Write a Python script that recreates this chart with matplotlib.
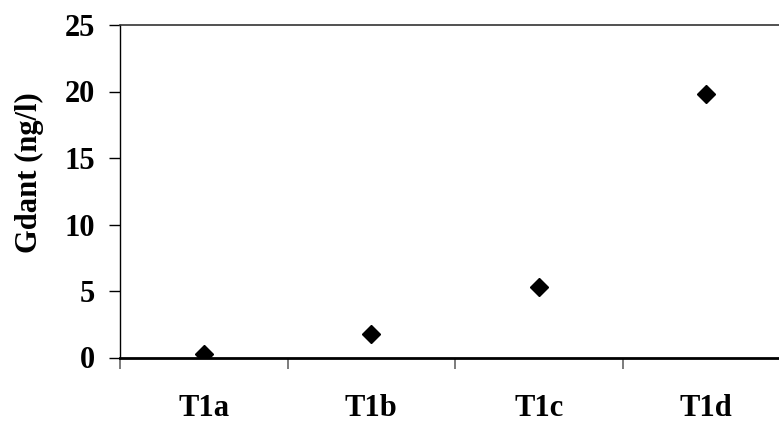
import numpy as np
import matplotlib
matplotlib.use("Agg")
import matplotlib.pyplot as plt

# data
samples = ['T1a', 'T1b', 'T1c', 'T1d']
gdant = [0.3, 1.8, 5.3, 19.8]
yticks = [0, 5, 10, 15, 20, 25]

plt.rcParams['font.family'] = ['Liberation Serif', 'DejaVu Serif']
plt.rcParams['font.weight'] = 'bold'

fig = plt.figure(figsize=(7.79, 4.22), dpi=100)
ax = fig.add_axes([120 / 779, 64.5 / 422, 670 / 779, 332.5 / 422])

x = np.arange(1, len(samples) + 1)
ax.plot(x, gdant, linestyle='none', marker='D', markersize=9.5, color='black')

ax.set_xlim(0.5, len(samples) + 0.5)
ax.set_ylim(0, 25)

# category labels at centres, tick marks at boundaries
ax.set_xticks(x)
ax.set_xticklabels(samples, fontsize=22, fontweight='bold')
ax.tick_params(axis='x', which='major', length=0, pad=26)
ax.set_xticks(np.arange(0.5, len(samples) + 1, 1.0), minor=True)
ax.tick_params(axis='x', which='minor', length=8, width=1.2, color='#666666', direction='out')

ax.set_yticks(yticks)
ax.set_yticklabels([str(v) for v in yticks], fontsize=22, fontweight='bold')
ax.tick_params(axis='y', length=8, width=1, color='black', direction='out', pad=10)

ax.set_ylabel('Gdant (ng/l)', fontsize=22, fontweight='bold')
ax.yaxis.set_label_coords(-0.114, 0.555)

ax.spines['right'].set_visible(False)
ax.spines['top'].set_color('#333333')
ax.spines['top'].set_linewidth(1.2)
ax.spines['left'].set_linewidth(1.0)
ax.spines['bottom'].set_linewidth(2.0)

fig.savefig('out.png', dpi=100)
